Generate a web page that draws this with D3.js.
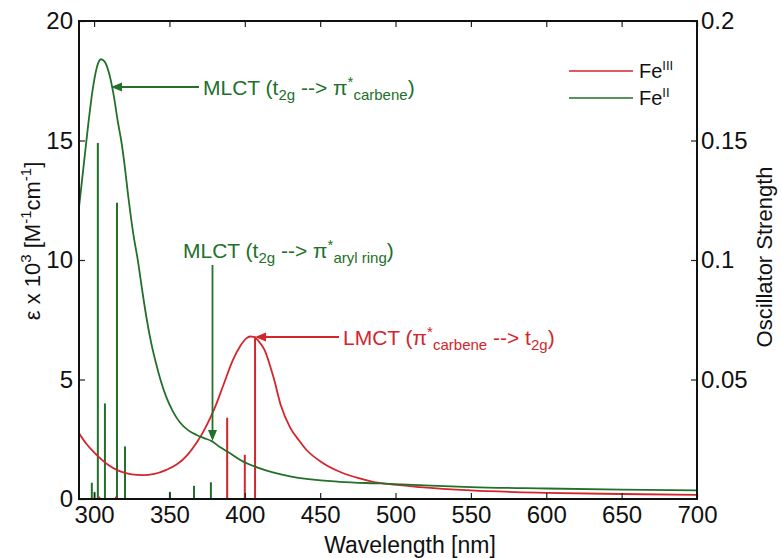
<!DOCTYPE html>
<html>
<head>
<meta charset="utf-8">
<script src="https://cdn.jsdelivr.net/npm/d3@7"></script>
<style>
  html, body { margin: 0; padding: 0; background: #fff; }
  svg { display: block; font-family: "Liberation Sans", Arial, Helvetica, sans-serif; }
</style>
</head>
<body>
<svg id="chart" width="782" height="558"></svg>
<script>
// ---------- DATA ----------
const xTicks = [300, 350, 400, 450, 500, 550, 600, 650, 700];
const yLeftTicks = [0, 5, 10, 15, 20];
const yRightTicks = [0.05, 0.1, 0.15, 0.2];
const yRightTickLabels = ["0.05", "0.1", "0.15", "0.2"];

// Fe(II) absorption curve (wavelength nm, epsilon x 10^3)
const fe2Wavelength = [290, 293, 296, 299, 302, 304.5, 307, 310, 313, 316, 318, 320, 323, 326, 329, 332, 335, 338, 341, 344, 348, 352, 357, 363, 368, 373, 378, 384, 390, 397, 410, 430, 463, 490, 516, 550, 600, 650, 700];
const fe2Epsilon    = [12.2, 13.9, 15.6, 17.1, 18.1, 18.4, 18.3, 17.8, 16.9, 15.7, 15.0, 14.1, 12.5, 11.1, 10.0, 8.7, 7.5, 6.5, 5.7, 5.0, 4.25, 3.7, 3.2, 2.85, 2.68, 2.55, 2.42, 2.15, 1.92, 1.63, 1.28, 0.95, 0.72, 0.65, 0.58, 0.5, 0.44, 0.39, 0.36];

// Fe(III) absorption curve
const fe3Wavelength = [290, 295, 300, 305, 310, 315, 320, 325, 332, 340, 348, 355, 362, 368, 374, 380, 386, 392, 397, 401, 403.5, 406, 409, 413, 419, 424, 430, 436, 441, 452, 463, 475, 485, 495, 516, 550, 600, 650, 700];
const fe3Epsilon    = [2.75, 2.3, 1.95, 1.65, 1.4, 1.22, 1.1, 1.03, 1.0, 1.05, 1.22, 1.45, 1.85, 2.35, 3.0, 3.8, 4.8, 5.8, 6.4, 6.72, 6.8, 6.78, 6.62, 6.25, 5.1, 3.9, 3.0, 2.45, 2.05, 1.5, 1.14, 0.88, 0.72, 0.63, 0.5, 0.36, 0.26, 0.21, 0.17];

// Oscillator strength sticks
const fe2StickWavelength = [298.5, 300.3, 302.5, 307.2, 315.2, 320.5, 350.3, 366.3, 377.5];
const fe2StickStrength   = [0.0068, 0.003, 0.149, 0.04, 0.124, 0.022, 0.003, 0.0055, 0.007];
const fe3StickWavelength = [303.5, 314.5, 388.3, 400.0, 406.8];
const fe3StickStrength   = [0.001, 0.001, 0.034, 0.0185, 0.068];

// ---------- LAYOUT ----------
const W = 782, H = 558;
const margin = { left: 79, right: 85, top: 21, bottom: 59 };
const x0 = margin.left, x1 = W - margin.right, y0 = margin.top, y1 = H - margin.bottom;
const RED = "#d3262c", GREEN = "#22702a";
const FONT = "\"Liberation Sans\", Arial, Helvetica, sans-serif";

const svg = d3.select("#chart");
const x = d3.scaleLinear().domain([290, 700]).range([x0, x1]);
const yL = d3.scaleLinear().domain([0, 20]).range([y1, y0]);
const yR = d3.scaleLinear().domain([0, 0.2]).range([y1, y0]);

svg.append("defs").append("clipPath").attr("id", "clip")
  .append("rect").attr("x", x0).attr("y", y0).attr("width", x1 - x0).attr("height", y1 - y0);

const plot = svg.append("g").attr("clip-path", "url(#clip)");

// sticks
function sticks(wl, f, color) {
  plot.append("g").selectAll("line").data(wl.map((w, i) => [w, f[i]])).join("line")
    .attr("x1", d => x(d[0])).attr("x2", d => x(d[0]))
    .attr("y1", yR(0)).attr("y2", d => yR(d[1]))
    .attr("stroke", color).attr("stroke-width", 2);
}
sticks(fe2StickWavelength, fe2StickStrength, GREEN);
sticks(fe3StickWavelength, fe3StickStrength, RED);

// curves
const line = d3.line().x(d => x(d[0])).y(d => yL(d[1])).curve(d3.curveMonotoneX);
plot.append("path").datum(fe3Wavelength.map((w, i) => [w, fe3Epsilon[i]]))
  .attr("d", line).attr("fill", "none").attr("stroke", RED).attr("stroke-width", 1.8);
plot.append("path").datum(fe2Wavelength.map((w, i) => [w, fe2Epsilon[i]]))
  .attr("d", line).attr("fill", "none").attr("stroke", GREEN).attr("stroke-width", 1.8);

// ---------- AXES ----------
const tickLen = 6;
const axBottom = svg.append("g").attr("transform", `translate(0,${y1})`)
  .call(d3.axisBottom(x).tickValues(xTicks).tickSizeInner(-tickLen).tickSizeOuter(0).tickPadding(7));
const axTop = svg.append("g").attr("transform", `translate(0,${y0})`)
  .call(d3.axisTop(x).tickValues(xTicks).tickSizeInner(-tickLen).tickSizeOuter(0).tickFormat(""));
const axLeft = svg.append("g").attr("transform", `translate(${x0},0)`)
  .call(d3.axisLeft(yL).tickValues(yLeftTicks).tickSizeInner(-tickLen).tickSizeOuter(0).tickPadding(6));
const axRight = svg.append("g").attr("transform", `translate(${x1},0)`)
  .call(d3.axisRight(yR).tickValues(yRightTicks).tickSizeInner(-tickLen).tickSizeOuter(0)
    .tickFormat((d, i) => yRightTickLabels[i]).tickPadding(4));

[axBottom, axTop, axLeft, axRight].forEach(a => {
  a.select(".domain").remove();
  a.selectAll(".tick line").attr("stroke", "#222").attr("stroke-width", 1.2);
  a.selectAll(".tick text").attr("font-family", FONT).attr("font-size", 24).attr("fill", "#111");
});
axBottom.selectAll(".tick text").attr("dy", "0.71em");

// frame
svg.append("rect").attr("x", x0).attr("y", y0).attr("width", x1 - x0).attr("height", y1 - y0)
  .attr("fill", "none").attr("stroke", "#111").attr("stroke-width", 2);

// axis titles
svg.append("text").attr("x", (x0 + x1) / 2 + 22).attr("y", 553)
  .attr("text-anchor", "middle").attr("font-size", 23).attr("font-family", FONT).attr("fill", "#111")
  .text("Wavelength [nm]");

const yt = svg.append("text").attr("transform", `translate(40,241) rotate(-90)`)
  .attr("text-anchor", "middle").attr("font-size", 22).attr("font-family", FONT).attr("fill", "#111");
yt.append("tspan").text("ε x 10");
yt.append("tspan").attr("dy", -9).attr("font-size", 15).text("3");
yt.append("tspan").attr("dy", 9).text(" [M");
yt.append("tspan").attr("dy", -9).attr("font-size", 15).text("-1");
yt.append("tspan").attr("dy", 9).text("cm");
yt.append("tspan").attr("dy", -9).attr("font-size", 15).text("-1");
yt.append("tspan").attr("dy", 9).text("]");

svg.append("text").attr("transform", `translate(772,257) rotate(-90)`)
  .attr("text-anchor", "middle").attr("font-size", 22).attr("font-family", FONT).attr("fill", "#111")
  .text("Oscillator Strength");

// legend
const legendItems = [["III", RED, 71], ["II", GREEN, 98]];
legendItems.forEach(([sup, c, ly]) => {
  svg.append("line").attr("x1", 569).attr("x2", 633).attr("y1", ly).attr("y2", ly)
    .attr("stroke", c).attr("stroke-width", 1.5);
  const t = svg.append("text").attr("x", 639).attr("y", ly + 7).attr("font-size", 20)
    .attr("font-family", FONT).attr("fill", "#111");
  t.append("tspan").text("Fe");
  t.append("tspan").attr("dy", -8).attr("font-size", 13).text(sup);
});

// annotations
function arrowHead(tx, ty, dir, color) {
  const L = 11, Wd = 4.5;
  let pts;
  if (dir === "left") pts = [[tx, ty], [tx + L, ty - Wd], [tx + L, ty + Wd]];
  else pts = [[tx, ty], [tx - Wd, ty - L], [tx + Wd, ty - L]];
  svg.append("path").attr("d", "M" + pts.map(p => p.join(",")).join("L") + "Z").attr("fill", color);
}
function richText(tx, ty, parts, color) {
  const t = svg.append("text").attr("x", tx).attr("y", ty).attr("font-size", 21)
    .attr("font-family", FONT).attr("fill", color);
  let cur = 0;
  parts.forEach(([s, kind]) => {
    const target = kind === "sub" ? 5 : kind === "sup" ? -8 : 0;
    const ts = t.append("tspan").attr("dy", target - cur).text(s);
    if (kind) ts.attr("font-size", 15);
    cur = target;
  });
  return t;
}

// MLCT carbene
svg.append("line").attr("x1", 199).attr("x2", 118).attr("y1", 87).attr("y2", 87)
  .attr("stroke", GREEN).attr("stroke-width", 1.8);
arrowHead(111, 87, "left", GREEN);
richText(203, 95, [["MLCT (t", null], ["2g", "sub"], [" --> π", null], ["*", "sup"], ["carbene", "sub"], [")", null]], GREEN);

// MLCT aryl ring
svg.append("line").attr("x1", 212.5).attr("x2", 212.5).attr("y1", 265).attr("y2", 432)
  .attr("stroke", GREEN).attr("stroke-width", 1.8);
arrowHead(212.5, 441, "down", GREEN);
richText(183, 258, [["MLCT (t", null], ["2g", "sub"], [" --> π", null], ["*", "sup"], ["aryl ring", "sub"], [")", null]], GREEN);

// LMCT
svg.append("line").attr("x1", 339).attr("x2", 262).attr("y1", 337).attr("y2", 337)
  .attr("stroke", RED).attr("stroke-width", 1.8);
arrowHead(255, 337, "left", RED);
richText(343, 345, [["LMCT (π", null], ["*", "sup"], ["carbene", "sub"], [" --> t", null], ["2g", "sub"], [")", null]], RED);
</script>
</body>
</html>
